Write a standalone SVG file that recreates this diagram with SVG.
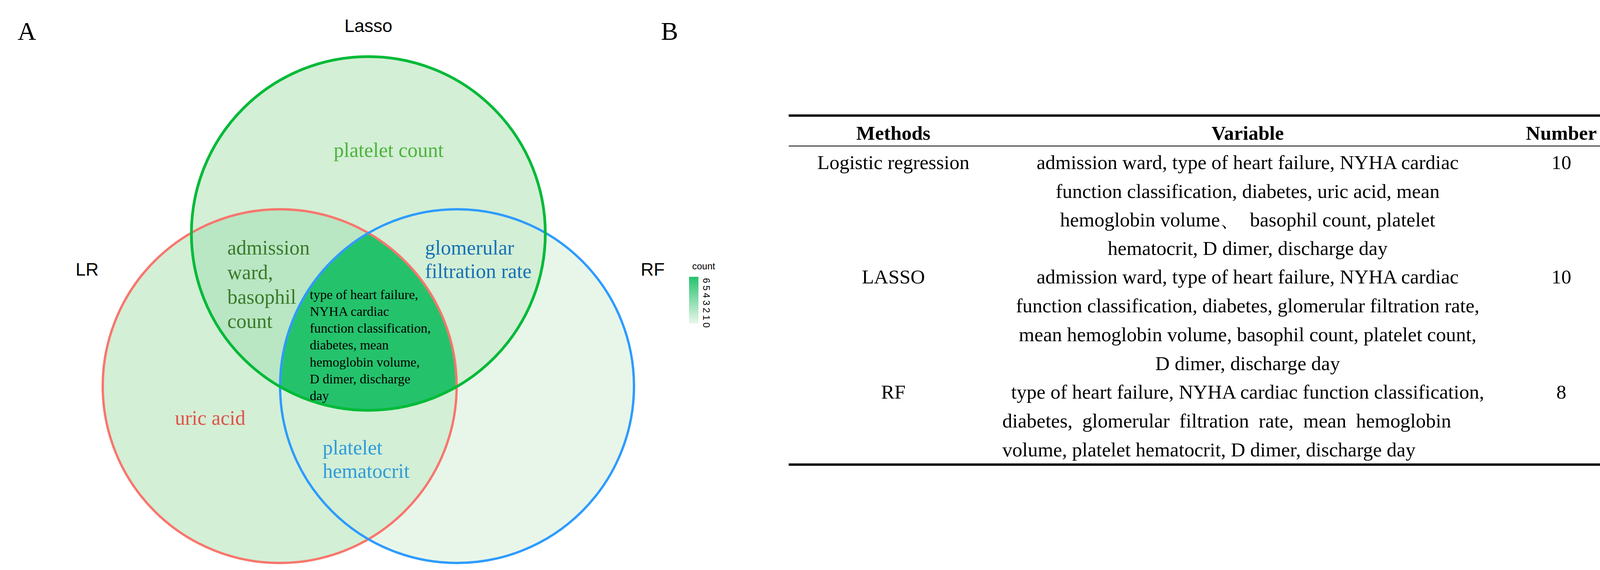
<svg xmlns="http://www.w3.org/2000/svg" width="4219" height="1460" viewBox="0 0 4219 1460">
<style>
.serif{font-family:"Liberation Serif","Times New Roman",serif}
.sans{font-family:"Liberation Sans",Arial,sans-serif}
.lab{font-size:52px}
.ctr{font-size:34px;fill:#000}
.tb{font-size:51px;fill:#000;text-anchor:middle}
</style>
<defs>
<clipPath id="cLR"><circle cx="716" cy="989" r="453"/></clipPath>
<clipPath id="cRF"><circle cx="1170" cy="989" r="453"/></clipPath>
<linearGradient id="leg" x1="0" y1="1" x2="0" y2="0"><stop offset="0" stop-color="#eaf7ec"/><stop offset="1" stop-color="#25c26c"/></linearGradient>
</defs>
<g id="panelA-labels">
<text class="serif" x="45" y="102" font-size="66">A</text>
<text class="serif" x="1692" y="102" font-size="66">B</text>
</g>
<g id="venn">
<circle id="set-RF" cx="1170" cy="989" r="453" fill="#e8f6ea"/>
<circle id="set-LR" cx="716" cy="989" r="453" fill="#d3efd5"/>
<circle id="set-Lasso" cx="943" cy="598" r="453" fill="#d3efd5"/>
<g clip-path="url(#cLR)"><circle cx="943" cy="598" r="453" fill="#b9e6c3"/></g>
<g clip-path="url(#cLR)"><g clip-path="url(#cRF)"><circle cx="943" cy="598" r="453" fill="#25c26c"/></g></g>
<circle cx="716" cy="989" r="453" fill="none" stroke="#f8766d" stroke-width="6"/>
<circle cx="1170" cy="989" r="453" fill="none" stroke="#2e9bff" stroke-width="6"/>
<circle cx="943" cy="598" r="453" fill="none" stroke="#00ba38" stroke-width="7"/>
</g>
<g id="set-names" class="sans" font-size="46" text-anchor="middle">
<text x="943" y="82">Lasso</text>
<text x="223" y="706">LR</text>
<text x="1671" y="706">RF</text>
</g>
<g id="region-labels" class="serif">
<text class="lab" x="995" y="402" text-anchor="middle" fill="#4db33d">platelet count</text>
<g fill="#3a7a2a" class="lab"><text x="582" y="652">admission</text><text x="582" y="715">ward,</text><text x="582" y="778">basophil</text><text x="582" y="840">count</text></g>
<g fill="#1570b8" class="lab"><text x="1088" y="652">glomerular</text><text x="1088" y="712">filtration rate</text></g>
<text class="lab" x="538" y="1088" text-anchor="middle" fill="#e0534a">uric acid</text>
<g fill="#2e9bdb" class="lab"><text x="826" y="1164">platelet</text><text x="826" y="1224">hematocrit</text></g>
<g class="ctr"><text x="793" y="766">type of heart failure,</text><text x="793" y="809">NYHA cardiac</text><text x="793" y="852">function classification,</text><text x="793" y="895">diabetes, mean</text><text x="793" y="939">hemoglobin volume,</text><text x="793" y="982">D dimer, discharge</text><text x="793" y="1025">day</text></g>
</g>
<g id="legend" class="sans">
<text x="1772" y="690" font-size="24">count</text>
<rect x="1764" y="709" width="24" height="120" fill="url(#leg)"/>
<g font-size="24">
<text transform="translate(1800,712) rotate(90)">6</text>
<text transform="translate(1800,731) rotate(90)">5</text>
<text transform="translate(1800,750) rotate(90)">4</text>
<text transform="translate(1800,769) rotate(90)">3</text>
<text transform="translate(1800,788) rotate(90)">2</text>
<text transform="translate(1800,807) rotate(90)">1</text>
<text transform="translate(1800,826) rotate(90)">0</text>
</g>
</g>
<g id="table" class="serif">
<line x1="2019" y1="296" x2="4168" y2="296" stroke="#000" stroke-width="6"/>
<line x1="2019" y1="374" x2="4168" y2="374" stroke="#000" stroke-width="2"/>
<line x1="2019" y1="1190" x2="4168" y2="1190" stroke="#000" stroke-width="6"/>
<g class="tb" font-weight="bold"><text x="2287" y="358">Methods</text><text x="3194" y="358">Variable</text><text x="3997" y="358">Number</text></g>
<g class="tb">
<text x="2287" y="433">Logistic regression</text><text x="3997" y="433">10</text>
<text x="3194" y="433">admission ward, type of heart failure, NYHA cardiac</text>
<text x="3194" y="507">function classification, diabetes, uric acid, mean</text>
<text x="3194" y="580" xml:space="preserve">hemoglobin volume、  basophil count, platelet</text>
<text x="3194" y="653">hematocrit, D dimer, discharge day</text>
<text x="2287" y="726">LASSO</text><text x="3997" y="726">10</text>
<text x="3194" y="726">admission ward, type of heart failure, NYHA cardiac</text>
<text x="3194" y="800">function classification, diabetes, glomerular filtration rate,</text>
<text x="3194" y="874">mean hemoglobin volume, basophil count, platelet count,</text>
<text x="3194" y="948">D dimer, discharge day</text>
<text x="2287" y="1021">RF</text><text x="3997" y="1021">8</text>
<text x="3194" y="1021">type of heart failure, NYHA cardiac function classification,</text>
<text x="2566" y="1095" text-anchor="start" word-spacing="12">diabetes, glomerular filtration rate, mean hemoglobin</text>
<text x="2566" y="1169" text-anchor="start">volume, platelet hematocrit, D dimer, discharge day</text>
</g>
</g>
</svg>
